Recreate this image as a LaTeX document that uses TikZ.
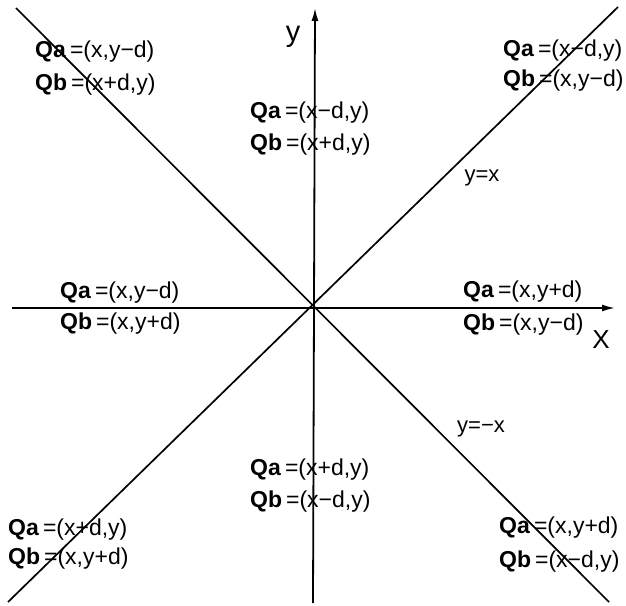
\documentclass[tikz,border=0pt]{standalone}
\usepackage{fontspec}
\setmainfont{Liberation Sans}
\usetikzlibrary{arrows.meta}
\newcommand{\qlab}[2]{\textbf{#1}\hspace{4pt}#2}
\begin{document}
\begin{tikzpicture}[x=1pt,y=-1pt,
  lbl/.style={anchor=west,inner sep=0pt,font=\fontsize{23}{26}\selectfont},
  axlbl/.style={inner sep=0pt,font=\fontsize{29}{31}\selectfont},
  linelbl/.style={inner sep=0pt,font=\fontsize{22}{24}\selectfont},
  ln/.style={line width=1.7pt},
  ax/.style={line width=1.8pt,-{Latex[length=13pt,width=7pt]}}]
\useasboundingbox (0,0) rectangle (626,605);
% axes and diagonals
\coordinate (xl) at (12,308);
\coordinate (xr) at (615,308);
\coordinate (yb) at (313,603);
\coordinate (yt) at (315,8);
\coordinate (d1a) at (16,8);
\coordinate (d1b) at (609,602);
\coordinate (d2a) at (618,7);
\coordinate (d2b) at (8,602);
\draw[ax] (xl) -- (xr);
\draw[ax] (yb) -- (yt);
\draw[ln] (d1a) -- (d1b);
\draw[ln] (d2a) -- (d2b);
% axis and line labels
\node[axlbl] (ylab) at (293,37) {y};
\node[axlbl,font=\fontsize{26}{28}\selectfont] (xlab) at (601,340) {X};
\node[linelbl] (lyx) at (482,178) {y=x};
\node[linelbl] (lymx) at (481,429) {y=−x};
% region labels
\node[lbl] (a1) at (35,52) {\qlab{Qa}{=(x,y−d)}};
\node[lbl] (b1) at (35,85) {\qlab{Qb}{=(x+d,y)}};
\node[lbl] (a2) at (250,113) {\qlab{Qa}{=(x−d,y)}};
\node[lbl] (b2) at (250,145) {\qlab{Qb}{=(x+d,y)}};
\node[lbl] (a3) at (503,51) {\qlab{Qa}{=(x−d,y)}};
\node[lbl] (b3) at (503,81) {\qlab{Qb}{=(x,y−d)}};
\node[lbl] (a4) at (60,293) {\qlab{Qa}{=(x,y−d)}};
\node[lbl] (b4) at (60,324) {\qlab{Qb}{=(x,y+d)}};
\node[lbl] (a5) at (463,292) {\qlab{Qa}{=(x,y+d)}};
\node[lbl] (b5) at (463,325) {\qlab{Qb}{=(x,y−d)}};
\node[lbl] (a6) at (250,470) {\qlab{Qa}{=(x+d,y)}};
\node[lbl] (b6) at (250,502) {\qlab{Qb}{=(x−d,y)}};
\node[lbl] (a7) at (8,530) {\qlab{Qa}{=(x+d,y)}};
\node[lbl] (b7) at (8,559) {\qlab{Qb}{=(x,y+d)}};
\node[lbl] (a8) at (499,528) {\qlab{Qa}{=(x,y+d)}};
\node[lbl] (b8) at (499,562) {\qlab{Qb}{=(x−d,y)}};
\end{tikzpicture}
\end{document}
